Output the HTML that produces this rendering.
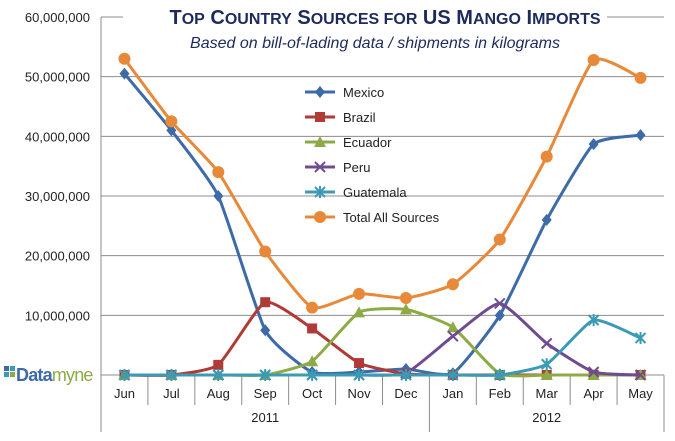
<!DOCTYPE html>
<html><head><meta charset="utf-8"><style>
body{margin:0;background:#fff;width:675px;height:436px;overflow:hidden;font-family:"Liberation Sans",sans-serif}
</style></head><body>
<svg id="s" width="675" height="436" xmlns="http://www.w3.org/2000/svg" font-family="Liberation Sans, sans-serif"></svg>
<script>
const s=document.getElementById('s');
let h='';
const L=101,R=664,T=17,B=375,n=12,dx=(R-L)/n;
const Y=v=>B-(B-T)*v/60;
const X=i=>L+dx*(i+0.5);
for(let k=1;k<=6;k++){h+=`<line x1="${L}" x2="${R}" y1="${Y(k*10)}" y2="${Y(k*10)}" stroke="#8c8c8c" stroke-width="1"/>`;}
for(let k=1;k<=6;k++){h+=`<text x="90" y="${Y(k*10)+5}" text-anchor="end" font-size="13" fill="#222">${(k*10)+',000,000'}</text>`;}
h+=`<line x1="${L}" x2="${L}" y1="${T}" y2="432" stroke="#8c8c8c"/>`;
h+=`<line x1="${L}" x2="${R}" y1="${B}" y2="${B}" stroke="#8c8c8c"/>`;
for(let i=1;i<=n;i++){const x=L+dx*i;const y2=(i==7||i==12)?432:405;h+=`<line x1="${x}" x2="${x}" y1="${B}" y2="${y2}" stroke="#8c8c8c"/>`;}
const m=['Jun','Jul','Aug','Sep','Oct','Nov','Dec','Jan','Feb','Mar','Apr','May'];
m.forEach((t,i)=>h+=`<text x="${X(i)}" y="398" text-anchor="middle" font-size="13" fill="#222">${t}</text>`);
h+=`<text x="${(L+L+7*dx)/2}" y="422" text-anchor="middle" font-size="13" fill="#222">2011</text>`;
h+=`<text x="${(L+7*dx+R)/2}" y="422" text-anchor="middle" font-size="13" fill="#222">2012</text>`;
const S=[
['Mexico','#3d6aa8','d',[50.5,41,30,7.5,0.5,0.5,1,0.3,10,26,38.7,40.2]],
['Brazil','#b03a36','s',[0,0,1.7,12.2,7.8,2,0.2,0,0,0,0,0]],
['Ecuador','#8cab44','t',[0,0,0,0,2.3,10.5,11,8,0.2,0,0,0]],
['Peru','#6f4c8f','x',[0,0,0,0,0,0,0.3,6.5,12,5.3,0.5,0]],
['Guatemala','#3a9bb5','a',[0,0,0,0,0,0,0,0,0,1.8,9.2,6.2]],
['Total All Sources','#e8893a','o',[53,42.5,34,20.7,11.3,13.6,12.9,15.2,22.7,36.6,52.8,49.8]]];
function mk(t,x,y,c){
 if(t=='d')return `<path d="M${x} ${y-6}L${x+5} ${y}L${x} ${y+6}L${x-5} ${y}Z" fill="${c}"/>`;
 if(t=='s')return `<rect x="${x-5}" y="${y-5}" width="10" height="10" fill="${c}"/>`;
 if(t=='t')return `<path d="M${x} ${y-6}L${x+6} ${y+5}L${x-6} ${y+5}Z" fill="${c}"/>`;
 if(t=='x')return `<path d="M${x-5} ${y-5}L${x+5} ${y+5}M${x+5} ${y-5}L${x-5} ${y+5}" stroke="${c}" stroke-width="2"/>`;
 if(t=='a')return `<path d="M${x-5} ${y-5}L${x+5} ${y+5}M${x+5} ${y-5}L${x-5} ${y+5}M${x} ${y-6}L${x} ${y+6}" stroke="${c}" stroke-width="2"/>`;
 return `<circle cx="${x}" cy="${y}" r="6" fill="${c}"/>`;
}
S.forEach(([nm,c,t,d])=>{
 const p=d.map((v,i)=>[X(i),Y(v)]);
 let path=`M${p[0][0]} ${p[0][1]}`;
 for(let i=0;i<p.length-1;i++){
  const p0=p[Math.max(i-1,0)],p1=p[i],p2=p[i+1],p3=p[Math.min(i+2,p.length-1)];
  const k=1/12;
  path+=`C${p1[0]+(p2[0]-p0[0])*k} ${p1[1]+(p2[1]-p0[1])*k} ${p2[0]-(p3[0]-p1[0])*k} ${p2[1]-(p3[1]-p1[1])*k} ${p2[0]} ${p2[1]}`;
 }
 h+=`<path d="${path}" fill="none" stroke="${c}" stroke-width="3" stroke-linejoin="round"/>`;
 p.forEach(q=>h+=mk(t,q[0],q[1],c));
});
S.forEach(([nm,c,t],j)=>{const y=92+j*25;
 h+=`<line x1="305" x2="335" y1="${y}" y2="${y}" stroke="${c}" stroke-width="3"/>`+mk(t,320,y,c);
 h+=`<text x="343" y="${y+5}" font-size="13" fill="#222">${nm}</text>`;});
h+=`<rect x="123" y="5" width="484" height="24" fill="#fff"/>`;
h+=`<text x="385" y="24" text-anchor="middle" font-size="20" font-weight="bold" fill="#1c2a5c">T<tspan font-size="16">OP</tspan> C<tspan font-size="16">OUNTRY</tspan> S<tspan font-size="16">OURCES FOR</tspan> US M<tspan font-size="16">ANGO</tspan> I<tspan font-size="16">MPORTS</tspan></text>`;
h+=`<text x="375" y="48" text-anchor="middle" font-size="16" font-style="italic" fill="#1c2a5c">Based on bill-of-lading data / shipments in kilograms</text>`;
h+=`<rect x="4" y="366" width="5" height="5" fill="#3d6aa8"/><rect x="10" y="366" width="5" height="5" fill="#3a9bb5"/><rect x="4" y="372" width="5" height="5" fill="#3a9bb5"/><rect x="10" y="372" width="5" height="5" fill="#8cab44"/>`;
h+=`<text x="16" y="381" font-size="18" font-weight="bold" fill="#3d6aa8" letter-spacing="-0.8">Data<tspan fill="#8cab44" font-weight="normal">myne</tspan></text>`;
s.innerHTML=h;
</script>
</body></html>
